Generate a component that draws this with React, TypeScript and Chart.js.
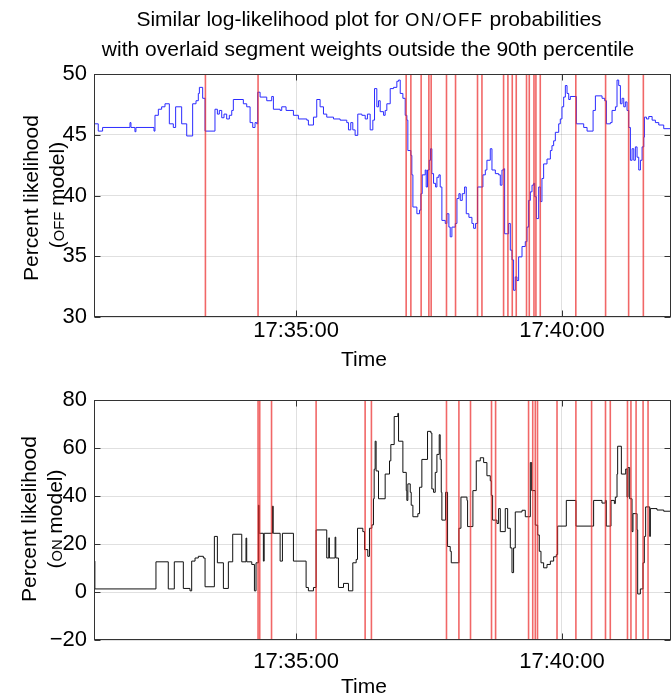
import React, { useEffect, useRef } from "react";
import { Chart, registerables } from "chart.js";

Chart.register(...registerables);

// Time axis: seconds after 17:30:00
const T_MIN = 72;
const T_MAX = 723;
const TIME_TICKS = [300, 600];

// OFF model: percent likelihood (step series)
const OFF_TIME = [
  72, 76.8, 81.7, 112.6, 113.7, 118.2, 119.3, 139.7, 140.8, 144.6, 148.3, 152.1, 157, 161.5, 164.1,
  170.9, 176.6, 183.3, 187.1, 189.7, 190.9, 194.6, 197.3, 208.5, 211.2, 213.4, 216.1, 218.7, 221.7,
  224.7, 227.4, 229.2, 240.5, 244.3, 248.1, 251.1, 253.7, 255.6, 256.7, 259.4, 266.9, 272.5, 274.4,
  282, 283.8, 288.7, 297, 302.6, 312.1, 313.9, 319.6, 323.3, 327.1, 330.9, 334.6, 342.2, 349.7,
  357.2, 359.1, 361.7, 364, 366.6, 369.6, 374.2, 378, 380.5, 383.6, 386.6, 388.5, 391.1, 393,
  394.9, 398.7, 400.5, 402.4, 406.2, 410, 413.7, 415.6, 417.5, 420.5, 423.1, 425, 426.1, 429.5,
  430.6, 431.8, 436.3, 439.3, 440.8, 442.3, 445.7, 446.8, 448.3, 450.2, 451.7, 453.2, 455.1, 457.4,
  458.9, 461.1, 462.6, 464.5, 468.3, 470.2, 472.4, 473.9, 475.8, 479.6, 481.5, 483.7, 485.2, 487.5,
  490.1, 492, 495, 498.4, 500.3, 502.5, 504.8, 510.8, 513.5, 515.3, 519.1, 521, 524.8, 528.5,
  530.4, 532.3, 534.2, 535.3, 539.8, 541.7, 543.6, 545.4, 547.3, 549.2, 551.1, 554.9, 558.6, 560.5,
  562.4, 564.3, 566.2, 568, 569.2, 571.1, 573.7, 575.6, 577.4, 579.3, 583.1, 586.9, 588.7, 590.6,
  592.5, 596.3, 598.1, 600, 601.9, 603.8, 605.7, 607.6, 609.4, 616.2, 624.5, 628.3, 635.1, 637.7,
  645.2, 648.2, 650.1, 654.6, 656.5, 660.3, 662.1, 664, 665.9, 667.8, 669.7, 671.5, 673.4, 675.3,
  677.2, 679.1, 681, 682.8, 684.7, 686.6, 688.5, 690.4, 692.3, 693, 695.3, 697.9, 701.7, 705.4,
  709.2, 714.8, 723,
];
const OFF_VALUE = [
  45.9, 45.3, 45.6, 46.0, 45.6, 45.25, 45.6, 45.3, 46.6, 47.1, 47.3, 47.55, 45.9, 45.6, 47.3,
  45.9, 44.9, 47.55, 47.8, 48.4, 48.9, 48.0, 45.3, 47.1, 46.7, 47.0, 46.4, 46.7, 46.3,
  46.6, 47.0, 47.9, 47.55, 47.3, 46.0, 45.6, 46.0, 45.9, 48.5, 48.1, 47.8, 48.15, 47.1,
  47.0, 47.3, 47.0, 46.6, 46.3, 46.2, 45.8, 46.45, 47.9, 47.3, 46.7, 46.45, 46.3, 46.2,
  46.0, 45.4, 46.0, 45.4, 44.95, 46.7, 46.6, 46.3, 46.7, 45.4, 46.2, 48.8, 47.3, 47.8,
  46.9, 46.6, 47.0, 47.55, 48.8, 48.9, 49.4, 49.5, 48.4, 48.0, 46.6, 46.2, 43.7, 43.3,
  41.7, 39.05, 38.5, 38.8, 40.15, 41.7, 42.1, 40.7, 42.1, 42.9, 43.85, 41.8, 41.0, 40.7,
  41.5, 41.7, 40.7, 37.95, 37.7, 38.5, 37.4, 36.6, 37.4, 37.7, 39.75, 40.15, 39.6, 40.15,
  40.7, 38.5, 38.2, 37.7, 37.3, 37.7, 40.7, 41.7, 42.1, 42.9, 43.85, 42.1, 41.8, 41.7,
  40.85, 42.1, 42.2, 36.85, 37.7, 35.5, 34.7, 32.2, 33.3, 33.0, 34.95, 35.8, 36.2, 37.4,
  39.6, 40.3, 40.85, 41.0, 39.9, 38.1, 40.7, 39.5, 41.4, 42.6, 43.0, 43.7, 44.1, 44.5,
  45.2, 45.9, 46.3, 47.3, 48.1, 49.05, 48.4, 47.9, 48.15, 45.9, 45.6, 45.3, 47.0, 48.2,
  48.0, 47.8, 45.9, 46.0, 47.0, 47.3, 49.5, 49.05, 47.55, 48.0, 47.3, 47.7, 47.0, 45.6,
  42.9, 43.85, 42.9, 44.0, 43.15, 42.1, 42.9, 44.0, 44.8, 46.45, 46.3, 46.5, 46.2, 46.0,
  45.8, 45.5, 45.5,
];

// ON model: percent likelihood (step series)
const ON_TIME = [
  72, 73, 141.9, 155.8, 162.6, 172.8, 180.3, 182.2, 186, 189.7, 195.4, 197.3, 207.8, 211.2, 218,
  223.6, 228.5, 238.7, 243.5, 244.3, 250, 253, 254.8, 257.5, 258.3, 263.1, 264, 273.3, 274.2, 282,
  284.6, 297, 311.3, 313.9, 319.6, 322.6, 334.6, 336.9, 337.6, 344, 344.8, 347.8, 353.5, 359.1,
  364, 367.8, 369.3, 375.3, 377.2, 380.9, 382.8, 385.5, 387.3, 388.1, 389.2, 390.3, 393, 400.5,
  405.4, 406.9, 410.7, 414.8, 415.6, 420.5, 424.3, 425, 426.1, 428.8, 429.9, 431.8, 437.4, 439.3,
  441.9, 448.3, 452.1, 453.2, 455.1, 457, 458.9, 461.5, 462.6, 463.8, 464.5, 468.7, 470.9, 473.9,
  475.1, 483.7, 486, 492.8, 493.5, 499.5, 503.3, 507.8, 511.6, 515.3, 519.1, 520.2, 521.7, 526.6,
  528.5, 530.4, 536, 538.7, 541.7, 543.6, 545.4, 547.3, 554.9, 558.6, 564.3, 565.8, 569.9, 572.6,
  574.4, 576.3, 579.3, 583.1, 586.9, 590.6, 593.6, 595.1, 604.9, 615.8, 635.7, 645.1, 648.9, 650,
  655.3, 659.1, 660.2, 662.1, 662.8, 667, 671.9, 673.4, 674.5, 676.4, 679, 680.1, 684.7, 685.4,
  688.4, 691.4, 692.9, 694.4, 699, 699.7, 707.2, 714.8, 723,
];
const ON_VALUE = [
  12.9, 1.3, 12.6, 1.3, 12.6, 1.5, 0.5, 12.9, 14.2, 14.9, 14.2, 2.2, 23.2, 12.2, 1.5,
  12.6, 24.1, 12.6, 22.5, 12.6, 11.5, 0.5, 12.2, 36.2, 24.5, 12.9, 24.5, 35.8, 24.5, 12.9,
  24.5, 12.9, 1.9, 0.5, 1.9, 25.9, 14.2, 22.6, 14.2, 22.9, 14.2, 1.9, 3.6, 0.5,
  12.2, 13.6, 26.6, 25.2, 17.7, 14.9, 26.6, 28.0, 38.9, 51.2, 62.9, 50.5, 38.9, 49.2,
  54.7, 61.5, 73.2, 74.5, 62.9, 49.9, 42.3, 38.2, 45.1, 41.6, 36.2, 31.4, 32.7, 43.7,
  55.3, 67.0, 66.3, 43.0, 41.6, 49.9, 57.4, 65.6, 55.3, 41.6, 30.0, 41.6, 19.0, 17.0,
  12.2, 26.6, 39.6, 38.2, 27.3, 42.3, 54.7, 56.0, 54.0, 48.5, 46.4, 40.3, 30.0, 28.6,
  34.8, 25.2, 34.8, 26.6, 18.4, 8.1, 18.4, 33.4, 34.1, 31.4, 54.0, 42.3, 27.9, 23.8,
  17.0, 12.2, 10.1, 11.5, 12.9, 14.7, 15.6, 27.5, 38.2, 27.5, 38.2, 37.1, 38.2, 27.5,
  38.2, 36.9, 39.6, 49.2, 60.8, 49.2, 51.3, 39.6, 51.9, 38.9, 25.2, 32.7, 25.9, -0.8,
  1.3, 12.2, 23.2, 35.5, 23.2, 34.8, 34.2, 33.7, 33.7,
];

// Segment weights outside the 90th percentile (seconds after 17:30:00)
const OFF_SEGMENTS = [
  197.7, 257.1, 424.2, 429.5, 441.1, 449.8, 452.4, 469.7, 479.9, 504.7, 509.7, 534.1, 539.0,
  543.9, 548.4, 560.0, 563.1, 568.4, 570.6, 575.5, 615.6, 649.2, 675.2, 691.8,
];
const ON_SEGMENTS = [
  257.1, 259.0, 272.3, 322.6, 377.9, 385.0, 469.7, 483.7, 496.8, 520.5, 525.1, 562.3, 567.0,
  569.9, 572.4, 594.4, 615.7, 633.4, 649.1, 654.5, 673.9, 677.8, 683.6, 691.5, 697.1,
];

const OFF_TICKS = [30, 35, 40, 45, 50];
const ON_TICKS = [-20, 0, 20, 40, 60, 80];

const FONT = "'Liberation Sans', Arial, Helvetica, sans-serif";
const TICK_FS = 22;
const LABEL_FS = 21;
const GRID = "rgba(0,0,0,0.12)";
const MARK = "rgba(236, 45, 45, 0.72)";

function clock(sec: number): string {
  const total = 17 * 3600 + 30 * 60 + Math.round(sec);
  const h = Math.floor(total / 3600);
  const m = Math.floor((total % 3600) / 60);
  const s = total % 60;
  const p = (n: number) => String(n).padStart(2, "0");
  return `${h}:${p(m)}:${p(s)}`;
}

const frameAndSegments = {
  id: "frameAndSegments",
  afterDatasetsDraw(chart: any, _args: any, opts: any) {
    const { ctx, chartArea: a, scales } = chart;
    const x = scales.x;
    ctx.save();
    ctx.beginPath();
    ctx.rect(a.left, a.top, a.right - a.left, a.bottom - a.top);
    ctx.clip();
    ctx.strokeStyle = MARK;
    ctx.lineWidth = 1.6;
    for (const t of opts.marks as number[]) {
      const px = x.getPixelForValue(t);
      ctx.beginPath();
      ctx.moveTo(px, a.top);
      ctx.lineTo(px, a.bottom);
      ctx.stroke();
    }
    ctx.restore();
  },
  afterDraw(chart: any) {
    const { ctx, chartArea: a, scales } = chart;
    const x = scales.x;
    const y = scales.y;
    const L = Math.round(a.left) + 0.5;
    const R = Math.round(a.right) - 0.5;
    const T = Math.round(a.top) + 0.5;
    const B = Math.round(a.bottom) - 0.5;
    ctx.save();
    ctx.strokeStyle = "#333";
    ctx.lineWidth = 1;
    ctx.strokeRect(L, T, R - L, B - T);
    ctx.beginPath();
    for (const tk of x.ticks) {
      const px = Math.round(x.getPixelForValue(tk.value)) + 0.5;
      ctx.moveTo(px, B);
      ctx.lineTo(px, B - 6);
      ctx.moveTo(px, T);
      ctx.lineTo(px, T + 6);
    }
    for (const tk of y.ticks) {
      const py = Math.round(y.getPixelForValue(tk.value)) + 0.5;
      ctx.moveTo(L, py);
      ctx.lineTo(L + 6, py);
      ctx.moveTo(R, py);
      ctx.lineTo(R - 6, py);
    }
    ctx.stroke();
    ctx.restore();
  },
};

interface PanelProps {
  times: number[];
  values: number[];
  color: string;
  marks: number[];
  yMin: number;
  yMax: number;
  yTicks: number[];
  height: number;
  plotTop: number;
  plotBottom: number;
  tickPad: number;
}

function Panel(p: PanelProps) {
  const ref = useRef<HTMLCanvasElement | null>(null);
  useEffect(() => {
    if (!ref.current) return;
    const chart = new Chart(ref.current, {
      type: "line",
      data: {
        datasets: [
          {
            data: p.times.map((t, i) => ({ x: t, y: p.values[i] })),
            borderColor: p.color,
            borderWidth: 1,
            pointRadius: 0,
            stepped: true,
            fill: false,
          },
        ],
      },
      options: {
        animation: false,
        responsive: false,
        maintainAspectRatio: false,
        events: [],
        layout: { padding: { top: p.plotTop, left: 0, right: 0, bottom: 0 } },
        plugins: {
          legend: { display: false },
          tooltip: { enabled: false },
          frameAndSegments: { marks: p.marks },
        } as any,
        scales: {
          x: {
            type: "linear",
            min: T_MIN,
            max: T_MAX,
            afterBuildTicks: (s: any) => {
              s.ticks = TIME_TICKS.map((v) => ({ value: v }));
            },
            afterFit: (s: any) => {
              s.height = p.height - p.plotBottom;
            },
            grid: { color: GRID, drawTicks: false },
            border: { display: false },
            ticks: {
              color: "#000",
              font: { family: FONT, size: TICK_FS },
              padding: p.tickPad,
              maxRotation: 0,
              autoSkip: false,
              callback: (v: any) => clock(Number(v)),
            },
          },
          y: {
            type: "linear",
            min: p.yMin,
            max: p.yMax,
            afterBuildTicks: (s: any) => {
              s.ticks = p.yTicks.map((v) => ({ value: v }));
            },
            afterFit: (s: any) => {
              s.width = 94;
            },
            grid: { color: GRID, drawTicks: false },
            border: { display: false },
            ticks: {
              color: "#000",
              font: { family: FONT, size: TICK_FS },
              padding: 7,
              callback: (v: any) => (Number(v) < 0 ? "\u2212" + Math.abs(Number(v)) : String(v)),
            },
          },
        },
      } as any,
      plugins: [frameAndSegments as any],
    });
    return () => chart.destroy();
  }, []);
  return <canvas ref={ref} width={671} height={p.height} style={{ display: "block" }} />;
}

const textBase: React.CSSProperties = {
  position: "absolute",
  fontFamily: FONT,
  fontSize: LABEL_FS,
  color: "#000",
  whiteSpace: "nowrap",
  lineHeight: `${LABEL_FS}px`,
  height: LABEL_FS,
};
// small capitals for the model names
const sc: React.CSSProperties = { textTransform: "uppercase", fontSize: "0.7em" };
const scWide: React.CSSProperties = { textTransform: "uppercase", fontSize: "0.88em", letterSpacing: "1.5px" };

function VLabel({ cx, cy, children }: { cx: number; cy: number; children: React.ReactNode }) {
  return (
    <div style={{ ...textBase, left: cx, top: cy, transform: "translate(-50%, -50%) rotate(-90deg)" }}>
      {children}
    </div>
  );
}

function CLabel({ cx, cy, children }: { cx: number; cy: number; children: React.ReactNode }) {
  return (
    <div style={{ ...textBase, left: cx, top: cy, transform: "translate(-50%, -50%)" }}>{children}</div>
  );
}

export default function App() {
  return (
    <div
      style={{
        position: "fixed",
        left: 0,
        top: 0,
        width: 671,
        height: 694,
        overflow: "hidden",
        background: "#fff",
      }}
    >
      <div style={{ position: "absolute", left: 0, top: 0 }}>
        <Panel
          times={OFF_TIME}
          values={OFF_VALUE}
          color="#2b2bff"
          marks={OFF_SEGMENTS}
          yMin={30}
          yMax={50}
          yTicks={OFF_TICKS}
          height={380}
          plotTop={74}
          plotBottom={317}
          tickPad={1}
        />
      </div>
      <div style={{ position: "absolute", left: 0, top: 380 }}>
        <Panel
          times={ON_TIME}
          values={ON_VALUE}
          color="#111"
          marks={ON_SEGMENTS}
          yMin={-20}
          yMax={80}
          yTicks={ON_TICKS}
          height={314}
          plotTop={17}
          plotBottom={260}
          tickPad={9}
        />
      </div>
      <CLabel cx={369} cy={18}>
        Similar log-likelihood plot for <span style={scWide}>on/off</span> probabilities
      </CLabel>
      <CLabel cx={368} cy={48}>
        with overlaid segment weights outside the 90th percentile
      </CLabel>
      <CLabel cx={364} cy={358}>Time</CLabel>
      <CLabel cx={364} cy={685}>Time</CLabel>
      <VLabel cx={30} cy={198}>Percent likelihood</VLabel>
      <VLabel cx={56} cy={195}>
        (<span style={sc}>off</span> model)
      </VLabel>
      <VLabel cx={28} cy={519}>Percent likelihood</VLabel>
      <VLabel cx={54} cy={519}>
        (<span style={sc}>on</span> model)
      </VLabel>
    </div>
  );
}
